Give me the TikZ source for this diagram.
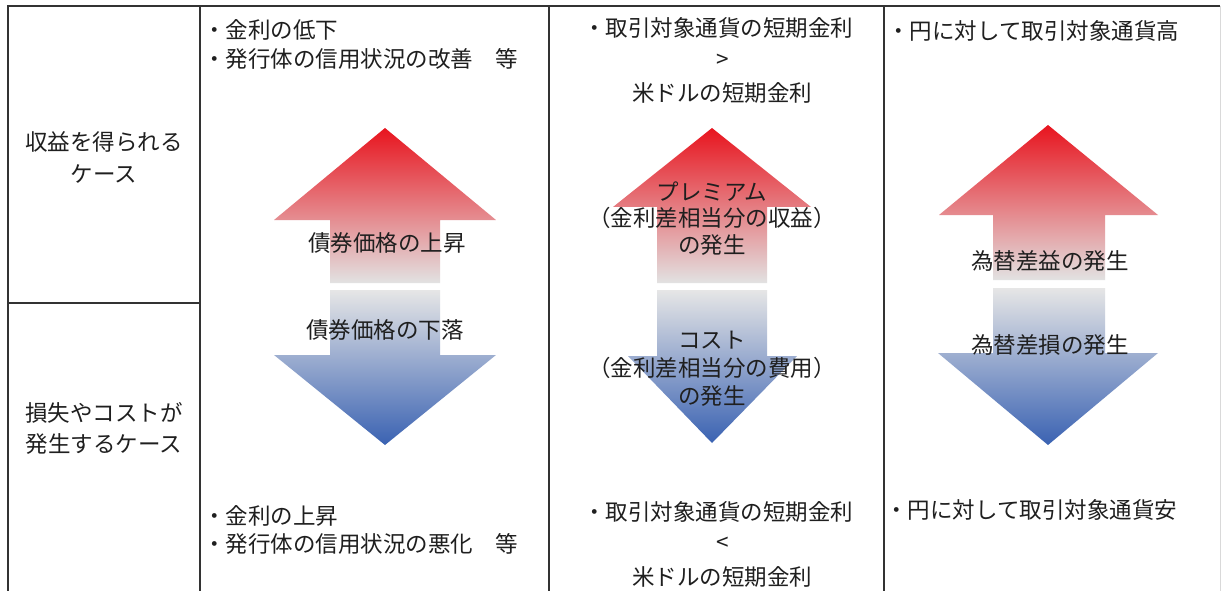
\documentclass[tikz,border=0pt]{standalone}
\usepackage{fontspec}
\setmainfont{Noto Sans CJK JP}
\definecolor{upred}{HTML}{E8141E}
\definecolor{uppink}{HTML}{F09A9E}
\definecolor{upgray}{HTML}{E2E2E2}
\definecolor{dnblue}{HTML}{3A62B2}
\definecolor{dnmid}{HTML}{A9B3CF}
\definecolor{dngray}{HTML}{E6E6E6}
\definecolor{rule}{HTML}{333333}
\begin{document}
\begin{tikzpicture}[x=1pt,y=-1pt,
  font=\fontsize{22.5}{26}\selectfont,
  gridline/.style={draw=rule, line width=1.6pt},
  txt/.style={inner sep=0pt, text=black!88},
  lft/.style={txt, anchor=west},
  ctr/.style={txt, anchor=center},
  uparrow/.style={top color=upred, middle color=uppink, bottom color=upgray, draw=none},
  dnarrow/.style={top color=dngray, middle color=dnmid, bottom color=dnblue, draw=none}]
\useasboundingbox (0,0) rectangle (1227,591);
\fill[white] (0,0) rectangle (1227,591);

% ---- arrows, column 2
\shade[uparrow] (385,128) -- (496,220) -- (440,220) -- (440,283) -- (330,283) -- (330,220) -- (274,220) -- cycle;
\shade[dnarrow] (330,290) -- (440,290) -- (440,355) -- (496,355) -- (385,445) -- (274,355) -- (330,355) -- cycle;
% ---- arrows, column 3
\shade[uparrow] (712,128) -- (811,207) -- (767,207) -- (767,283) -- (657,283) -- (657,207) -- (613,207) -- cycle;
\shade[dnarrow] (657,290) -- (767,290) -- (767,356) -- (797,356) -- (712,443) -- (628,356) -- (657,356) -- cycle;
% ---- arrows, column 4
\shade[uparrow] (1048,125) -- (1158,215) -- (1105,215) -- (1105,280) -- (993,280) -- (993,215) -- (939,215) -- cycle;
\shade[dnarrow] (993,288) -- (1105,288) -- (1105,353) -- (1158,353) -- (1048,445) -- (938,353) -- (993,353) -- cycle;

% ---- table rules
\draw[gridline] (8,591) -- (8,6) -- (1220,6);
\draw[gridline] (200,6) -- (200,591);
\draw[gridline] (549,6) -- (549,591);
\draw[gridline] (884,6) -- (884,591);
\draw[gridline] (8,303) -- (200,303);
\draw[draw=black!15, line width=1pt] (1220,6) -- (1220,591);

% ---- column 1
\node[ctr] (p1) at (104,142) {収益を得られる};
\node[ctr] (p2) at (104,174) {ケース};
\node[ctr] (l1) at (104,413) {損失やコストが};
\node[ctr] (l2) at (104,444) {発生するケース};

% ---- column 2
\node[lft] (a1) at (203,30) {・金利の低下};
\node[lft] (a2) at (203,59) {・発行体の信用状況の改善　等};
\node[lft] (a3) at (203,516) {・金利の上昇};
\node[lft] (a4) at (203,544) {・発行体の信用状況の悪化　等};
\node[ctr] (d1) at (387,243) {債券価格の上昇};
\node[ctr] (d2) at (385,330) {債券価格の下落};

% ---- column 3
\node[ctr] (b1) at (718,28) {・取引対象通貨の短期金利};
\node[ctr] (b2) at (723,61) {>};
\node[ctr] (b3) at (722,93) {米ドルの短期金利};
\node[ctr] (b4) at (718,512) {・取引対象通貨の短期金利};
\node[ctr] (b5) at (723,544) {<};
\node[ctr] (b6) at (722,577) {米ドルの短期金利};
\node[ctr] (e1) at (712,192) {プレミアム};
\node[ctr] (e2) at (712,218) {（金利差相当分の収益）};
\node[ctr] (e3) at (712,245) {の発生};
\node[ctr] (e4) at (712,340) {コスト};
\node[ctr] (e5) at (712,368) {（金利差相当分の費用）};
\node[ctr] (e6) at (712,396) {の発生};

% ---- column 4
\node[lft] (c1) at (887,31) {・円に対して取引対象通貨高};
\node[lft] (c2) at (885,510) {・円に対して取引対象通貨安};
\node[ctr] (f1) at (1050,261) {為替差益の発生};
\node[ctr] (f2) at (1050,345) {為替差損の発生};
\end{tikzpicture}
\end{document}
